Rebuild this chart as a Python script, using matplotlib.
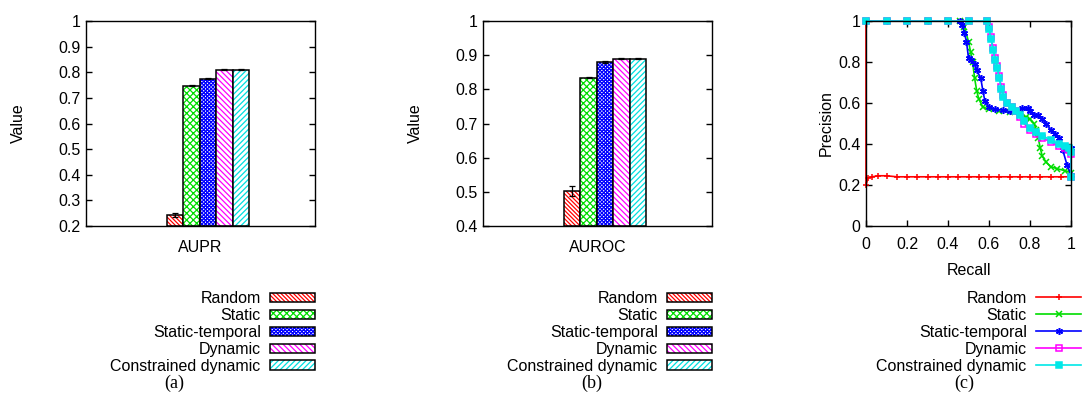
import matplotlib
matplotlib.use("Agg")
import matplotlib.pyplot as plt
from matplotlib.legend_handler import HandlerTuple

plt.rcParams['font.family'] = ['Liberation Sans', 'DejaVu Sans']
plt.rcParams['font.size'] = 11.5
plt.rcParams['hatch.linewidth'] = 0.9

# --- data ---
methods = ["Random", "Static", "Static-temporal", "Dynamic", "Constrained dynamic"]
colors = ["#ff0000", "#00dd00", "#0000ff", "#ff00ff", "#00e0e0"]
hatches = ["\\" * 8, "xxxxx", "x" * 9, "\\" * 6, "/" * 6]

aupr = [0.244, 0.748, 0.774, 0.810, 0.810]
aupr_err = [0.008, 0.002, 0.002, 0.001, 0.001]
auroc = [0.503, 0.834, 0.880, 0.890, 0.890]
auroc_err = [0.015, 0.002, 0.002, 0.001, 0.001]

# precision-recall curves
rand_r = [0.0, 0.0, 0.01, 0.03, 0.06, 0.1, 0.15, 0.2, 0.25, 0.3, 0.35, 0.4, 0.45, 0.5,
          0.55, 0.6, 0.65, 0.7, 0.75, 0.8, 0.85, 0.9, 0.95, 1.0]
rand_p = [1.0, 0.2, 0.235, 0.24, 0.245, 0.245, 0.24, 0.24, 0.24, 0.24, 0.24, 0.24, 0.24, 0.24,
          0.24, 0.24, 0.24, 0.24, 0.24, 0.24, 0.24, 0.24, 0.24, 0.24]

stat_r = [0.0, 0.1, 0.2, 0.3, 0.4, 0.46, 0.48, 0.5, 0.51, 0.52, 0.53, 0.54, 0.55, 0.57, 0.6,
          0.65, 0.7, 0.75, 0.78, 0.8, 0.82, 0.83, 0.84, 0.85, 0.86, 0.88, 0.9, 0.93, 0.97, 1.0, 1.0]
stat_p = [1.0, 1.0, 1.0, 1.0, 1.0, 1.0, 0.97, 0.9, 0.85, 0.8, 0.72, 0.66, 0.62, 0.58, 0.57,
          0.56, 0.555, 0.55, 0.53, 0.52, 0.5, 0.47, 0.43, 0.38, 0.34, 0.31, 0.29, 0.28, 0.27, 0.26, 0.24]

st_r = [0.0, 0.1, 0.2, 0.3, 0.4, 0.46, 0.47, 0.48, 0.49, 0.5, 0.51, 0.53, 0.54, 0.56, 0.57,
        0.58, 0.6, 0.63, 0.67, 0.7, 0.73, 0.76, 0.79, 0.8, 0.82, 0.84, 0.86, 0.88, 0.9, 0.92,
        0.94, 0.96, 0.98, 1.0, 1.0]
st_p = [1.0, 1.0, 1.0, 1.0, 1.0, 1.0, 0.98, 0.94, 0.9, 0.82, 0.81, 0.79, 0.76, 0.72, 0.66,
        0.61, 0.58, 0.57, 0.565, 0.56, 0.56, 0.575, 0.575, 0.56, 0.54, 0.54, 0.52, 0.5, 0.47, 0.45,
        0.43, 0.37, 0.3, 0.25, 0.38]

dyn_r = [0.0, 0.1, 0.2, 0.3, 0.4, 0.5, 0.59, 0.6, 0.61, 0.62, 0.63, 0.64, 0.65, 0.66, 0.67,
         0.69, 0.71, 0.73, 0.75, 0.77, 0.8, 0.83, 0.86, 0.9, 0.94, 0.97, 0.99, 1.0, 1.0]
dyn_p = [1.0, 1.0, 1.0, 1.0, 1.0, 1.0, 1.0, 0.97, 0.92, 0.87, 0.82, 0.78, 0.73, 0.68, 0.64,
         0.6, 0.58, 0.56, 0.53, 0.5, 0.47, 0.45, 0.43, 0.41, 0.39, 0.38, 0.37, 0.35, 0.24]

cdyn_r = [0.0, 0.1, 0.2, 0.3, 0.4, 0.5, 0.59, 0.6, 0.61, 0.62, 0.63, 0.64, 0.65, 0.66, 0.67,
          0.69, 0.71, 0.73, 0.75, 0.77, 0.8, 0.83, 0.86, 0.9, 0.94, 0.97, 0.99, 1.0, 1.0]
cdyn_p = [1.0, 1.0, 1.0, 1.0, 1.0, 1.0, 1.0, 0.96, 0.91, 0.86, 0.81, 0.77, 0.72, 0.67, 0.63,
          0.6, 0.58, 0.56, 0.54, 0.51, 0.48, 0.46, 0.44, 0.42, 0.4, 0.39, 0.38, 0.36, 0.24]

W, H = 1082, 397
fig = plt.figure(figsize=(W / 100, H / 100), dpi=100)


def px_axes(left, right, top, bottom):
    return fig.add_axes([left / W, (H - bottom) / H, (right - left) / W, (bottom - top) / H])


def style_axes(ax):
    for s in ax.spines.values():
        s.set_linewidth(1.0)
    ax.tick_params(direction="in", length=4, width=1, left=True, right=True, pad=4)


def bar_panel(ax, values, errs, ymin, yticks, xlabel, legend_x):
    width = 0.1435
    start = -0.221
    handles = []
    for i, (v, e) in enumerate(zip(values, errs)):
        x = start + i * width
        h1 = ax.bar(x, v - ymin, width, bottom=ymin, color="white", edgecolor=colors[i],
                    hatch=hatches[i], linewidth=0)[0]
        h2 = ax.bar(x, v - ymin, width, bottom=ymin, fill=False, edgecolor="black", linewidth=1.1)[0]
        ax.errorbar(x, v, yerr=e, color="black", capsize=2.5, elinewidth=0.9, capthick=0.9)
        handles.append((h1, h2))
    ax.set_xlim(-1, 1)
    ax.set_ylim(ymin, 1)
    ax.set_yticks(yticks)
    ax.set_yticklabels([f"{t:g}" for t in yticks])
    ax.set_xticks([0])
    ax.set_xticklabels([xlabel])
    ax.set_ylabel("Value", labelpad=23)
    style_axes(ax)
    ax.tick_params(axis="x", length=0, pad=10)
    ax.legend(handles, methods, handler_map={tuple: HandlerTuple(ndivide=1)},
              loc="upper right", bbox_to_anchor=(legend_x / W, (H - 291) / H),
              bbox_transform=fig.transFigure, frameon=False, markerfirst=False,
              borderpad=0, borderaxespad=0, handlelength=2.8, handleheight=0.5,
              labelspacing=0.12, handletextpad=0.6)


ax1 = px_axes(86, 315, 21, 226)
bar_panel(ax1, aupr, aupr_err, 0.2, [0.2, 0.3, 0.4, 0.5, 0.6, 0.7, 0.8, 0.9, 1.0], "AUPR", 315)

ax2 = px_axes(483, 712, 21, 226)
bar_panel(ax2, auroc, auroc_err, 0.4, [0.4, 0.5, 0.6, 0.7, 0.8, 0.9, 1.0], "AUROC", 712)

# --- PR curves ---
ax3 = px_axes(866, 1071, 21, 226)
asterisk = (6, 2, 0)
curves = [
    (rand_r, rand_p, "+", "#ff0000", "#ff0000"),
    (stat_r, stat_p, "x", "#00dd00", "#00dd00"),
    (st_r, st_p, asterisk, "#0000ff", "#0000ff"),
    (dyn_r, dyn_p, "s", "#ff00ff", "none"),
    (cdyn_r, cdyn_p, "s", "#00e8e8", "#00e8e8"),
]
for (r, p, mk, c, fc), name in zip(curves, methods):
    ax3.plot(r, p, color=c, marker=mk, markersize=5, markerfacecolor=fc, markeredgecolor=c,
             markeredgewidth=1.1, linewidth=1.2, label=name, clip_on=False)
ax3.set_xlim(0, 1)
ax3.set_ylim(0, 1)
ax3.set_xticks([0, 0.2, 0.4, 0.6, 0.8, 1])
ax3.set_xticklabels(["0", "0.2", "0.4", "0.6", "0.8", "1"])
ax3.set_yticks([0, 0.2, 0.4, 0.6, 0.8, 1])
ax3.set_yticklabels(["0", "0.2", "0.4", "0.6", "0.8", "1"])
style_axes(ax3)
ax3.tick_params(top=True, bottom=True)
ax3.tick_params(axis="x", pad=8)
ax3.set_xlabel("Recall", labelpad=8)
ax3.set_ylabel("Precision", labelpad=3)
ax3.legend(loc="upper right", bbox_to_anchor=(1081 / W, (H - 291) / H),
           bbox_transform=fig.transFigure, frameon=False, markerfirst=False,
           borderpad=0, borderaxespad=0, handlelength=2.8, labelspacing=0.12,
           handletextpad=0.6, numpoints=1)

for x, lab in [(174, "(a)"), (592, "(b)"), (964, "(c)")]:
    fig.text(x / W, (H - 383) / H, lab, ha="center", va="center",
             family=["Liberation Serif", "DejaVu Serif"], fontsize=13)

fig.savefig("out.png", dpi=100)
